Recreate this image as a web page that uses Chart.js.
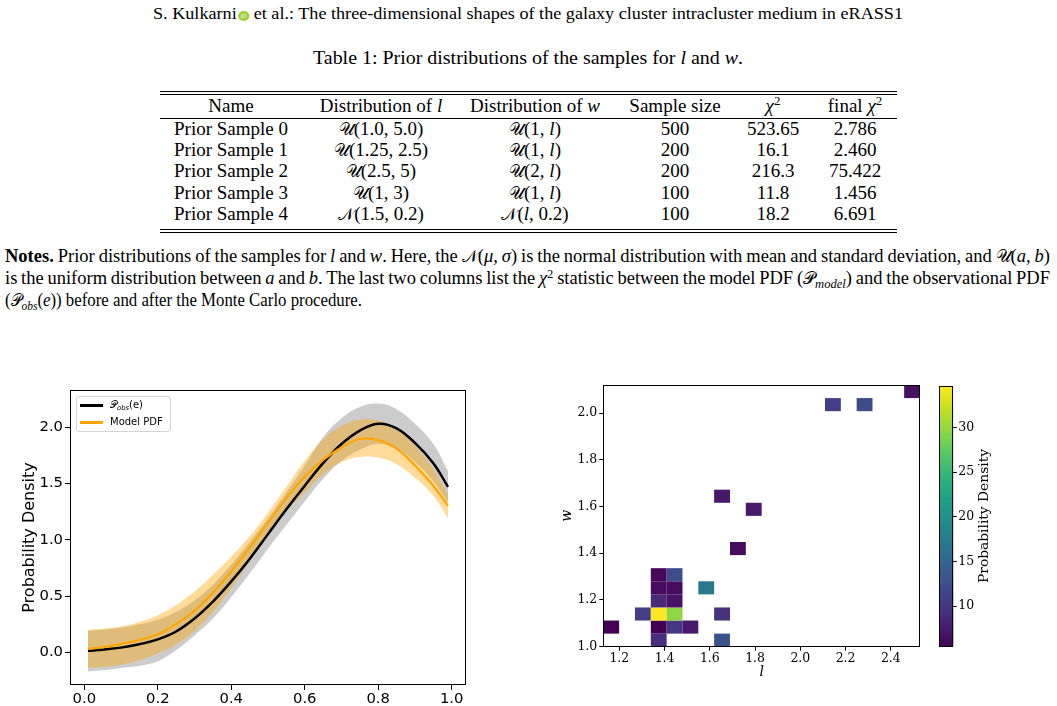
<!DOCTYPE html>
<html lang="en"><head><meta charset="utf-8"><title>Prior distributions of the samples</title>
<script src="https://cdn.jsdelivr.net/npm/chart.js@4.4.1/dist/chart.umd.min.js"></script>
<style>
html,body{margin:0;padding:0;background:#fff}
body{width:1057px;height:706px;position:relative;overflow:hidden;font-family:"Liberation Serif","Times New Roman",serif;color:#000}
.ln{position:absolute;white-space:nowrap;line-height:1}
.m{font-family:"DejaVu Serif","DejaVu Sans",serif;font-style:normal;font-size:0.92em}
sup,sub{font-size:0.68em;line-height:0;position:relative;vertical-align:0}
sup{top:-0.5em}
sub{top:0.3em}
.rule{position:absolute;left:160px;width:737px;height:1px;background:#000}
.cell{position:absolute;width:240px;margin-left:-120px;text-align:center;white-space:nowrap;font-size:19px;line-height:20px;height:20px}
canvas{position:absolute}
#legend{position:absolute;left:76px;top:396px;width:93px;height:34px;border:1px solid #d4d4d4;border-radius:3px;background:rgba(255,255,255,0.85);font-family:"DejaVu Sans",sans-serif;font-size:10px;z-index:2}
#legend .sw{position:absolute;left:3px;width:23px;height:2.5px}
#legend .tx{position:absolute;left:33px;line-height:12px;white-space:nowrap}
#cbtitle{position:absolute;left:983px;top:516px;transform:translate(-50%,-50%) rotate(-90deg);font-family:"DejaVu Serif",serif;font-size:13.8px;white-space:nowrap}
.orcid{display:inline-block;width:10px;height:10px;border-radius:50%;background:#a6ce39;color:#fff;font-family:"DejaVu Sans",sans-serif;font-size:5px;line-height:10px;text-align:center;vertical-align:1px;margin-left:1px}
</style></head>
<body>
<div class="ln" id="hdr" style="left:153px;top:6px;font-size:16px">S. Kulkarni<span class="orcid">iD</span> et al.: The three-dimensional shapes of the galaxy cluster intracluster medium in eRASS1</div>
<div class="ln" id="cap" style="left:313px;top:48px;font-size:19px">Table 1: Prior distributions of the samples for <i>l</i> and <i>w</i>.</div>
<div class="rule" style="top:91px"></div>
<div class="rule" style="top:94px"></div>
<div class="rule" style="top:118px"></div>
<div class="rule" style="top:229px"></div>
<div class="rule" style="top:232px"></div>
<div id="tbl"></div>
<div class="ln" id="n1" style="left:5px;top:247px;font-size:18.5px"><b>Notes.</b> Prior distributions of the samples for <i>l</i> and <i>w</i>. Here, the <span class="m">𝒩</span>(<i>μ</i>, <i>σ</i>) is the normal distribution with mean and standard deviation, and <span class="m">𝒰</span>(<i>a</i>, <i>b</i>)</div>
<div class="ln" id="n2" style="left:5px;top:269px;font-size:18.5px">is the uniform distribution between <i>a</i> and <i>b</i>. The last two columns list the <i>χ</i><sup>2</sup> statistic between the model PDF (<span class="m">𝒫</span><sub><i>model</i></sub>) and the observational PDF</div>
<div class="ln" id="n3" style="left:5px;top:291px;font-size:18.5px">(<span class="m">𝒫</span><sub><i>obs</i></sub>(<i>e</i>)) before and after the Monte Carlo procedure.</div>

<canvas id="pdfChart" width="480" height="336" style="left:0;top:370px"></canvas>
<div id="legend">
  <div class="sw" style="top:7px;background:#000"></div><div class="tx" style="top:2px"><span class="m" style="font-size:10px">𝒫</span><sub><i>obs</i></sub>(e)</div>
  <div class="sw" style="top:24px;background:#FFA500"></div><div class="tx" style="top:19px">Model PDF</div>
</div>
<canvas id="heatChart" width="390" height="331" style="left:540px;top:375px"></canvas>
<canvas id="cbChart" width="127" height="331" style="left:930px;top:375px"></canvas>
<div id="cbtitle">Probability Density</div>

<script>
// ---------- left panel: eccentricity PDFs ----------
const eGrid      = [0.01,0.05,0.10,0.15,0.20,0.25,0.30,0.35,0.40,0.45,0.50,0.55,0.60,0.65,0.70,0.75,0.80,0.85,0.90,0.95,0.99];
const obsPdf     = [0.014,0.024,0.042,0.072,0.115,0.185,0.30,0.45,0.63,0.83,1.05,1.27,1.48,1.68,1.85,1.97,2.03,1.99,1.86,1.68,1.47];
const obsUpper   = [0.19,0.20,0.22,0.25,0.29,0.36,0.46,0.60,0.78,0.98,1.19,1.42,1.66,1.91,2.08,2.18,2.21,2.16,2.03,1.85,1.61];
const obsLower   = [-0.17,-0.16,-0.14,-0.12,-0.08,0.02,0.15,0.30,0.49,0.70,0.92,1.13,1.34,1.54,1.70,1.80,1.85,1.81,1.69,1.52,1.33];
const modelPdf   = [0.03,0.045,0.075,0.11,0.16,0.25,0.37,0.53,0.72,0.93,1.15,1.37,1.56,1.71,1.82,1.895,1.885,1.81,1.66,1.48,1.30];
const modelUpper = [0.20,0.21,0.23,0.27,0.33,0.42,0.54,0.69,0.85,1.03,1.24,1.47,1.70,1.89,2.01,2.065,2.06,1.99,1.84,1.63,1.40];
const modelLower = [-0.14,-0.13,-0.11,-0.07,-0.01,0.07,0.19,0.36,0.57,0.81,1.04,1.25,1.42,1.58,1.69,1.735,1.73,1.67,1.55,1.39,1.19];
const pdfXTicks  = [0.0,0.2,0.4,0.6,0.8,1.0];
const pdfYTicks  = [0.0,0.5,1.0,1.5,2.0];

// ---------- right panel: 2D histogram of (l, w) ----------
const cellL       = [1.164,1.374,1.374,1.444,1.514,1.304,1.374,1.444,1.654,1.654,1.374,1.444,1.374,1.444,1.584,1.374,1.444,1.724,1.794,1.654,2.144,2.284,2.494];
const cellW       = [1.084,1.028,1.084,1.084,1.084,1.140,1.140,1.140,1.140,1.028,1.196,1.196,1.252,1.252,1.252,1.308,1.308,1.420,1.588,1.644,2.036,2.036,2.092];
const cellDensity = [5.44,9.3,5.44,10.2,7.3,10.7,34.7,29.7,9.5,13.0,8.8,6.9,6.2,6.2,17.2,6.0,12.2,6.3,7.3,7.3,10.7,11.9,6.6];
const binWidthL = 0.07, binWidthW = 0.056;
const lRange = [1.129, 2.529], wRange = [1.0, 2.12];
const heatXTicks = [1.2,1.4,1.6,1.8,2.0,2.2,2.4];
const heatYTicks = [1.0,1.2,1.4,1.6,1.8,2.0];
const cbTicks    = [10,15,20,25,30];

// viridis colormap anchors
const VIRIDIS = ['#440154','#48186a','#472d7b','#424086','#3b528b','#33638d','#2c728e','#26828e','#21918c','#1fa088','#28ae80','#3fbc73','#5ec962','#84d44b','#addc30','#d8e219','#fde725'];
function hex2rgb(h){return [parseInt(h.slice(1,3),16),parseInt(h.slice(3,5),16),parseInt(h.slice(5,7),16)];}
function viridis(t){
  t=Math.max(0,Math.min(1,t));
  const p=t*(VIRIDIS.length-1), i=Math.min(Math.floor(p),VIRIDIS.length-2), f=p-i;
  const a=hex2rgb(VIRIDIS[i]), b=hex2rgb(VIRIDIS[i+1]);
  return 'rgb('+a.map((v,k)=>Math.round(v+(b[k]-v)*f)).join(',')+')';
}
const vmin = Math.min(...cellDensity), vmax = Math.max(...cellDensity);

// ---------- table ----------
const colX = [231,381,535,675,773,855];
const rowY = [105.7,129,149.7,171.3,193,214];
const tableRows = [
  ['Name','Distribution of <i>l</i>','Distribution of <i>w</i>','Sample size','<i>χ</i><sup>2</sup>','final <i>χ</i><sup>2</sup>'],
  ['Prior Sample 0','<span class="m">𝒰</span>(1.0, 5.0)','<span class="m">𝒰</span>(1, <i>l</i>)','500','523.65','2.786'],
  ['Prior Sample 1','<span class="m">𝒰</span>(1.25, 2.5)','<span class="m">𝒰</span>(1, <i>l</i>)','200','16.1','2.460'],
  ['Prior Sample 2','<span class="m">𝒰</span>(2.5, 5)','<span class="m">𝒰</span>(2, <i>l</i>)','200','216.3','75.422'],
  ['Prior Sample 3','<span class="m">𝒰</span>(1, 3)','<span class="m">𝒰</span>(1, <i>l</i>)','100','11.8','1.456'],
  ['Prior Sample 4','<span class="m">𝒩</span>(1.5, 0.2)','<span class="m">𝒩</span>(<i>l</i>, 0.2)','100','18.2','6.691']
];
const tbl=document.getElementById('tbl');
tableRows.forEach((r,ri)=>r.forEach((c,ci)=>{
  const d=document.createElement('div'); d.className='cell';
  d.style.left=colX[ci]+'px'; d.style.top=(rowY[ri]-10)+'px'; d.innerHTML=c; tbl.appendChild(d);
}));

function fitX(id,target){const el=document.getElementById(id);el.style.transform='';const w=el.getBoundingClientRect().width;el.style.transformOrigin='0 50%';el.style.transform='scaleX('+(target/w)+')';}
function justify(id,target){const el=document.getElementById(id);const w=el.getBoundingClientRect().width;const n=(el.textContent.match(/ /g)||[]).length;el.style.wordSpacing=((target-w)/n)+'px';}
fitX('hdr',750); fitX('cap',430); justify('n1',1045); justify('n2',1045); fitX('n3',357);

// ---------- charts ----------
Chart.defaults.animation=false;
const frame = {id:'frame',afterDraw(ch){const a=ch.chartArea,c=ch.ctx;c.save();c.strokeStyle='#000';c.lineWidth=1;c.strokeRect(Math.round(a.left)+0.5,Math.round(a.top)+0.5,Math.round(a.right-a.left)-1,Math.round(a.bottom-a.top)-1);c.restore();}};
const pts = arr => arr.map((v,i)=>({x:eGrid[i],y:v}));
const ticksFrom = arr => s => { s.ticks = arr.map(v=>({value:v})); };

new Chart(document.getElementById('pdfChart'),{
  type:'line',
  data:{datasets:[
    {label:'Model PDF',data:pts(modelPdf),borderColor:'#FFA500',borderWidth:2.2,pointRadius:0,fill:false,order:0},
    {label:'Pobs(e)',data:pts(obsPdf),borderColor:'#000',borderWidth:2.5,pointRadius:0,fill:false,order:1},
    {label:'model upper',data:pts(modelUpper),borderColor:'transparent',borderWidth:0,pointRadius:0,fill:'+1',backgroundColor:'rgba(255,165,0,0.4)',order:2},
    {label:'model lower',data:pts(modelLower),borderColor:'transparent',borderWidth:0,pointRadius:0,fill:false,order:3},
    {label:'obs upper',data:pts(obsUpper),borderColor:'transparent',borderWidth:0,pointRadius:0,fill:'+1',backgroundColor:'rgba(128,128,128,0.4)',order:4},
    {label:'obs lower',data:pts(obsLower),borderColor:'transparent',borderWidth:0,pointRadius:0,fill:false,order:5}
  ]},
  options:{
    responsive:false,devicePixelRatio:1,
    elements:{line:{tension:0.4}},
    layout:{padding:{left:0,right:14,top:20,bottom:0}},
    plugins:{legend:{display:false},tooltip:{enabled:false}},
    scales:{
      x:{type:'linear',min:-0.039,max:1.039,afterBuildTicks:ticksFrom(pdfXTicks),afterFit:s=>{s.height=21;},
         ticks:{callback:v=>v.toFixed(1),font:{family:'DejaVu Sans',size:14.8},color:'#000',padding:0,maxRotation:0,autoSkip:false},
         grid:{drawOnChartArea:false,tickLength:5,color:'#000',lineWidth:1},border:{display:false}},
      y:{type:'linear',min:-0.29,max:2.33,afterBuildTicks:ticksFrom(pdfYTicks),afterFit:s=>{s.width=70;},
         ticks:{callback:v=>v.toFixed(1),font:{family:'DejaVu Sans',size:14.8},color:'#000',padding:2,autoSkip:false},
         grid:{drawOnChartArea:false,tickLength:5,color:'#000',lineWidth:1},border:{display:false},
         title:{display:true,text:'Probability Density',font:{family:'DejaVu Sans',size:16},color:'#000',padding:{top:20,bottom:0}}}
    }
  },
  plugins:[frame]
});

const heatCells = {id:'heatCells',beforeDatasetsDraw(ch){
  const c=ch.ctx,x=ch.scales.x,y=ch.scales.y;c.save();
  cellL.forEach((l,k)=>{
    const x0=x.getPixelForValue(l-binWidthL/2),x1=x.getPixelForValue(l+binWidthL/2);
    const y0=y.getPixelForValue(cellW[k]+binWidthW/2),y1=y.getPixelForValue(cellW[k]-binWidthW/2);
    c.fillStyle=viridis((cellDensity[k]-vmin)/(vmax-vmin));
    c.fillRect(x0,y0,x1-x0,y1-y0);
  });
  c.restore();
}};
new Chart(document.getElementById('heatChart'),{
  type:'scatter',
  data:{datasets:[{label:'density',data:cellL.map((l,k)=>({x:l,y:cellW[k]})),pointRadius:0,showLine:false}]},
  options:{
    responsive:false,devicePixelRatio:1,
    layout:{padding:{left:0,right:10,top:10,bottom:0}},
    plugins:{legend:{display:false},tooltip:{enabled:false}},
    scales:{
      x:{type:'linear',min:lRange[0],max:lRange[1],afterBuildTicks:ticksFrom(heatXTicks),afterFit:s=>{s.height=59.3;},
         ticks:{callback:v=>v.toFixed(1),font:{family:'DejaVu Serif',size:12.5},color:'#000',padding:0.5,maxRotation:0,autoSkip:false},
         grid:{drawOnChartArea:false,tickLength:4,color:'#000',lineWidth:1},border:{display:false},
         title:{display:true,text:'l',font:{family:'DejaVu Serif',size:14,style:'italic'},color:'#000',padding:{top:0,bottom:25}}},
      y:{type:'linear',min:wRange[0],max:wRange[1],afterBuildTicks:ticksFrom(heatYTicks),afterFit:s=>{s.width=63.3;},
         ticks:{callback:v=>v.toFixed(1),font:{family:'DejaVu Serif',size:12.5},color:'#000',padding:2,autoSkip:false},
         grid:{drawOnChartArea:false,tickLength:4,color:'#000',lineWidth:1},border:{display:false},
         title:{display:true,text:'w',font:{family:'DejaVu Serif',size:14,style:'italic'},color:'#000',padding:{top:19,bottom:0}}}
    }
  },
  plugins:[heatCells,frame]
});

const cbGradient = {id:'cbGradient',beforeDatasetsDraw(ch){
  const a=ch.chartArea,c=ch.ctx,g=c.createLinearGradient(0,a.bottom,0,a.top);
  VIRIDIS.forEach((col,i)=>g.addColorStop(i/(VIRIDIS.length-1),col));
  c.save();c.fillStyle=g;c.fillRect(a.left,a.top,a.right-a.left,a.bottom-a.top);c.restore();
}};
new Chart(document.getElementById('cbChart'),{
  type:'scatter',
  data:{datasets:[{data:[]}]},
  options:{
    responsive:false,devicePixelRatio:1,
    layout:{padding:{left:9,right:0,top:10.7,bottom:59.3}},
    plugins:{legend:{display:false},tooltip:{enabled:false}},
    scales:{
      x:{display:false,min:0,max:1},
      y:{type:'linear',position:'right',min:vmin,max:vmax,afterBuildTicks:ticksFrom(cbTicks),afterFit:s=>{s.width=103.7;},
         ticks:{font:{family:'DejaVu Serif',size:12.5},color:'#000',padding:1.5,autoSkip:false},
         grid:{drawOnChartArea:false,tickLength:3.5,color:'#000',lineWidth:1},border:{display:false}}
    }
  },
  plugins:[cbGradient,frame]
});
</script>
</body></html>
